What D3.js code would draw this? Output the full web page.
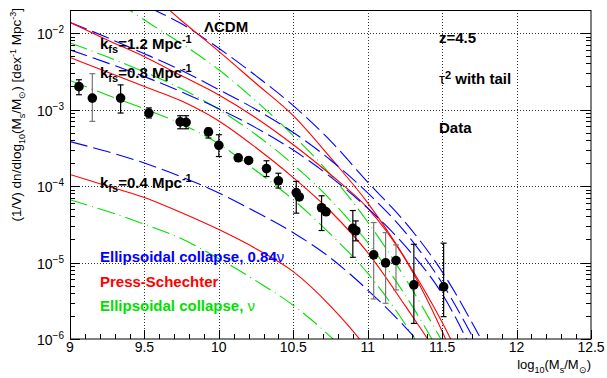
<!DOCTYPE html>
<html>
<head>
<meta charset="utf-8">
<script src="https://cdn.jsdelivr.net/npm/d3@7"></script>
<style>
body{margin:0;background:#fff}
text{font-family:"Liberation Sans",Arial,Helvetica,sans-serif}
</style>
</head>
<body>
<svg id="chart" width="607" height="378"></svg>
<script>
// mass grid for the model curves (log10 Ms/Msun)
const massGrid = [9.0, 9.25, 9.5, 9.75, 10.0, 10.25, 10.5, 10.75, 11.0, 11.25, 11.5, 11.75];

// model curves, log10 of (1/V) dn/dlog10 M
const lcdmBlue  = [-0.97, -1.33, -1.63, -1.88, -2.20, -2.56, -2.95, -3.41, -3.95, -4.47, -5.12, -5.96];
const lcdmRed   = [-0.65, -1.01, -1.41, -1.84, -2.24, -2.66, -3.08, -3.63, -4.22, -4.94, -5.78, -6.80];
const lcdmGreen = [-1.17, -1.50, -1.83, -2.14, -2.48, -2.89, -3.34, -3.85, -4.47, -5.20, -6.03, -6.93];
const k12Blue  = [-1.86, -2.06, -2.27, -2.49, -2.74, -3.00, -3.30, -3.66, -4.09, -4.60, -5.27, -6.14];
const k12Red   = [-1.86, -2.09, -2.31, -2.56, -2.81, -3.11, -3.46, -3.85, -4.29, -4.95, -5.90, -7.10];
const k12Green = [-2.13, -2.31, -2.51, -2.73, -3.00, -3.33, -3.72, -4.18, -4.74, -5.42, -6.24, -7.20];
const k08Blue  = [-2.22, -2.39, -2.57, -2.77, -2.99, -3.24, -3.53, -3.88, -4.29, -4.78, -5.41, -6.35];
const k08Red   = [-2.32, -2.51, -2.70, -2.89, -3.15, -3.50, -3.89, -4.33, -4.87, -5.56, -6.30, -7.20];
const k08Green = [-2.62, -2.81, -2.99, -3.19, -3.45, -3.80, -4.18, -4.63, -5.14, -5.80, -6.60, -7.50];
const k04Blue  = [-3.42, -3.55, -3.70, -3.88, -4.09, -4.34, -4.61, -4.94, -5.36, -5.84, -6.40, -7.10];
const k04Red   = [-3.85, -4.00, -4.15, -4.35, -4.57, -4.82, -5.12, -5.57, -6.14, -6.90, -7.80, -8.80];
const k04Green = [-4.18, -4.33, -4.50, -4.69, -4.95, -5.24, -5.56, -5.97, -6.47, -7.10, -7.80, -8.60];

// data points
const dataX  = [9.06, 9.15, 9.34, 9.53, 9.74, 9.78, 9.93, 10.0, 10.13, 10.2, 10.32, 10.4, 10.52, 10.54, 10.69, 10.72, 10.9, 10.92, 11.04, 11.12, 11.19, 11.31, 11.51];
const dataY  = [1.99e-3, 1.41e-3, 1.41e-3, 9.0e-4, 6.9e-4, 6.8e-4, 5.1e-4, 3.4e-4, 2.34e-4, 2.16e-4, 1.69e-4, 1.17e-4, 8.2e-5, 7.2e-5, 5.2e-5, 4.6e-5, 2.8e-5, 2.6e-5, 1.26e-5, 9.9e-6, 1.06e-5, 5.1e-6, 4.8e-6];
const dataLo = [1.56e-3, 7.0e-4, 9.0e-4, 7.75e-4, 5.6e-4, 5.6e-4, 4.24e-4, 2.43e-4, null, null, 1.33e-4, 9.4e-5, 4.42e-5, null, 2.62e-5, null, 1.17e-5, 1.92e-5, 3.34e-6, 2.93e-6, 4.38e-6, 1.6e-6, 1.96e-6];
const dataHi = [2.45e-3, 2.94e-3, 2.1e-3, 1.05e-3, 8.3e-4, 8.3e-4, 5.7e-4, 4.68e-4, null, null, 2.14e-4, 1.47e-4, 1.15e-4, null, 7.45e-5, null, 4.78e-5, 3.5e-5, 3.33e-5, 2.46e-5, 1.7e-5, 1.73e-5, 1.79e-5];
const dataGray = [false, true, false, false, false, false, false, false, false, false, false, false, false, false, false, false, false, false, true, true, true, false, false];

const xMajor = [9, 9.5, 10, 10.5, 11, 11.5, 12, 12.5];
const xLabels = ["9", "9.5", "10", "10.5", "11", "11.5", "12", "12.5"];
const yMajor = [1e-6, 1e-5, 1e-4, 1e-3, 1e-2];
const yExp = ["\u22126", "\u22125", "\u22124", "\u22123", "\u22122"];

const BLUE = "#0000ff", RED = "#ff0000", GREEN = "#00e000";

var svg = d3.select("#chart");
var x = d3.scaleLinear().domain([9, 12.5]).range([70, 591]);
var y = d3.scaleLog().domain([1e-6, 0.02]).range([339, 10]);

svg.append("clipPath").attr("id", "plotclip")
   .append("rect").attr("x", 70).attr("y", 10).attr("width", 521).attr("height", 329);

// grid
var grid = svg.append("g").attr("stroke", "#000").attr("stroke-width", 1)
              .attr("stroke-dasharray", "1,2").attr("opacity", 0.8);
xMajor.slice(1, -1).forEach(function(v){
	grid.append("line").attr("x1", Math.round(x(v))+0.5).attr("x2", Math.round(x(v))+0.5)
	    .attr("y1", 10).attr("y2", 339);
});
yMajor.slice(1).forEach(function(v){
	grid.append("line").attr("x1", 70).attr("x2", 591)
	    .attr("y1", Math.round(y(v))+0.5).attr("y2", Math.round(y(v))+0.5);
});

// model curves
var line = d3.line()
	.x(function(d){ return x(d[0]); })
	.y(function(d){ return y(Math.pow(10, d[1])); })
	.curve(d3.curveMonotoneX);

var curves = [
	[lcdmBlue, BLUE, "18,6"], [lcdmRed, RED, null], [lcdmGreen, GREEN, "18,5,1,5"],
	[k12Blue, BLUE, "18,6"], [k12Red, RED, null], [k12Green, GREEN, "18,5,1,5"],
	[k08Blue, BLUE, "18,6"], [k08Red, RED, null], [k08Green, GREEN, "18,5,1,5"],
	[k04Blue, BLUE, "18,6"], [k04Red, RED, null], [k04Green, GREEN, "18,5,1,5"]
];
var cg = svg.append("g").attr("clip-path", "url(#plotclip)");
curves.forEach(function(c){
	var pts = massGrid.map(function(m, i){ return [m, c[0][i]]; });
	var p = cg.append("path").datum(pts)
	  .attr("d", line)
	  .attr("fill", "none")
	  .attr("stroke", c[1])
	  .attr("stroke-width", 1.1);
	if(c[2]) p.attr("stroke-dasharray", c[2]);
});

// data with error bars
var dg = svg.append("g");
for(var i = 0; i < dataX.length; i++){
	var col = dataGray[i] ? "#777" : "#000";
	var px = x(dataX[i]);
	if(dataLo[i] !== null){
		dg.append("line").attr("x1", px).attr("x2", px)
		  .attr("y1", y(dataLo[i])).attr("y2", y(dataHi[i]))
		  .attr("stroke", col).attr("stroke-width", 1.2);
		[dataLo[i], dataHi[i]].forEach(function(v){
			dg.append("line").attr("x1", px-3).attr("x2", px+3)
			  .attr("y1", y(v)).attr("y2", y(v))
			  .attr("stroke", col).attr("stroke-width", 1.2);
		});
	}
}
dg.selectAll("circle").data(dataX).enter().append("circle")
  .attr("cx", function(d){ return x(d); })
  .attr("cy", function(d, i){ return y(dataY[i]); })
  .attr("r", 4.8)
  .attr("fill", "#000");

// frame
svg.append("rect").attr("x", 70.5).attr("y", 10.5).attr("width", 520.5).attr("height", 328.5)
   .attr("fill", "none").attr("stroke", "#000").attr("stroke-width", 1);

// x ticks
var ax = svg.append("g").attr("stroke", "#000").attr("stroke-width", 1);
for(var t = 90; t <= 125; t++){
	var v = t / 10;
	var xp = Math.round(x(v)) + 0.5;
	var len = (t % 5 === 0) ? 9 : 5;
	ax.append("line").attr("x1", xp).attr("x2", xp).attr("y1", 339).attr("y2", 339-len);
}
svg.append("g").selectAll("text").data(xMajor).enter().append("text")
   .attr("x", function(d){ return x(d); })
   .attr("y", 352)
   .attr("text-anchor", "middle")
   .attr("font-size", 14)
   .text(function(d, i){ return xLabels[i]; });

// y ticks (log)
for(var e = -6; e <= -2; e++){
	for(var k = 1; k <= 9; k++){
		var val = k * Math.pow(10, e);
		if(val > 0.02) break;
		var yp = Math.round(y(val)) + 0.5;
		var ln = (k === 1) ? 10 : 5;
		ax.append("line").attr("x1", 70).attr("x2", 70+ln).attr("y1", yp).attr("y2", yp);
		ax.append("line").attr("x1", 591).attr("x2", 591-ln).attr("y1", yp).attr("y2", yp);
	}
}
yMajor.forEach(function(v, i){
	var t = svg.append("text").attr("x", 64).attr("y", y(v)+6)
	   .attr("text-anchor", "end").attr("font-size", 14);
	t.append("tspan").text("10");
	t.append("tspan").attr("dy", -6).attr("font-size", 10).text(yExp[i]);
});

// axis titles
var xt = svg.append("text").attr("x", 591).attr("y", 369).attr("text-anchor", "end").attr("font-size", 13);
xt.append("tspan").text("log");
xt.append("tspan").attr("dy", 4).attr("font-size", 9).text("10");
xt.append("tspan").attr("dy", -4).text("(M");
xt.append("tspan").attr("dy", 4).attr("font-size", 9).text("s");
xt.append("tspan").attr("dy", -4).text("/M");
xt.append("tspan").attr("dy", 4).attr("font-size", 9).text("\u2299");
xt.append("tspan").attr("dy", -4).text(")");

var yt = svg.append("text").attr("transform", "translate(21,8) rotate(-90)")
	.attr("text-anchor", "end").attr("font-size", 13.5);
yt.append("tspan").text("(1/V) dn/dlog");
yt.append("tspan").attr("dy", 4).attr("font-size", 9).text("10");
yt.append("tspan").attr("dy", -4).text("(M");
yt.append("tspan").attr("dy", 4).attr("font-size", 9).text("s");
yt.append("tspan").attr("dy", -4).text("/M");
yt.append("tspan").attr("dy", 4).attr("font-size", 9).text("\u2299");
yt.append("tspan").attr("dy", -4).text(")  [dex");
yt.append("tspan").attr("dy", -5).attr("font-size", 9).text("-1");
yt.append("tspan").attr("dy", 5).text(" Mpc");
yt.append("tspan").attr("dy", -5).attr("font-size", 9).text("-3");
yt.append("tspan").attr("dy", 5).text("]");

// annotations
function kLabel(val, ybase){
	var t = svg.append("text").attr("x", 100).attr("y", ybase)
	   .attr("font-size", 15).attr("font-weight", "bold");
	t.append("tspan").text("k");
	t.append("tspan").attr("dy", 4).attr("font-size", 11).text("fs");
	t.append("tspan").attr("dy", -4).text("=" + val + " Mpc");
	t.append("tspan").attr("dy", -6).attr("font-size", 11).text("-1");
}
kLabel("1.2", 49);
kLabel("0.8", 78);
kLabel("0.4", 188);

svg.append("text").attr("x", 204).attr("y", 32).attr("font-size", 15).attr("font-weight", "bold").text("\u039BCDM");
svg.append("text").attr("x", 439).attr("y", 43).attr("font-size", 15).attr("font-weight", "bold").text("z=4.5");
var tau = svg.append("text").attr("x", 439).attr("y", 84).attr("font-size", 15).attr("font-weight", "bold");
tau.append("tspan").attr("font-weight", "normal").text("\u03C4");
tau.append("tspan").attr("dy", -5).attr("font-size", 11).text("2");
tau.append("tspan").attr("dy", 5).text(" with tail");
svg.append("text").attr("x", 439).attr("y", 133).attr("font-size", 15).attr("font-weight", "bold").text("Data");

// legend
var legendText = ["Ellipsoidal collapse, 0.84", "Press-Schechter", "Ellipsoidal collapse, "];
var legendSym = ["\u03BD", "", "\u03BD"];
var legendCol = [BLUE, RED, GREEN];
var legendY = [262, 287, 311];
legendText.forEach(function(s, i){
	var t = svg.append("text").attr("x", 100).attr("y", legendY[i])
	   .attr("font-size", 15).attr("font-weight", "bold").attr("fill", legendCol[i]);
	t.append("tspan").text(s);
	if(legendSym[i]) t.append("tspan").attr("font-weight", "normal").text(legendSym[i]);
});
</script>
</body>
</html>
